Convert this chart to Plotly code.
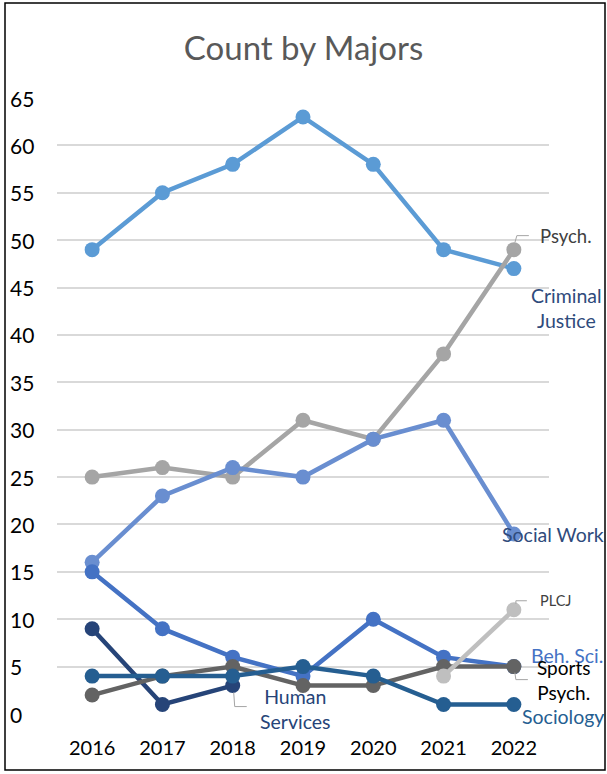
import plotly.graph_objects as go

years = ["2016", "2017", "2018", "2019", "2020", "2021", "2022"]

criminal_justice = [49, 55, 58, 63, 58, 49, 47]
psych = [25, 26, 25, 31, 29, 38, 49]
social_work = [16, 23, 26, 25, 29, 31, 19]
beh_sci = [15, 9, 6, 4, 10, 6, 5]
human_services = [9, 1, 3, None, None, None, None]
sports_psych = [2, 4, 5, 3, 3, 5, 5]
sociology = [4, 4, 4, 5, 4, 1, 1]
plcj = [None, None, None, None, None, 4, 11]

y_ticks = list(range(0, 70, 5))

series = [
    ("Criminal Justice", criminal_justice, "#5B9BD5"),
    ("Psych.", psych, "#A5A5A5"),
    ("Social Work", social_work, "#698ED0"),
    ("Beh. Sci.", beh_sci, "#4472C4"),
    ("Human Services", human_services, "#264478"),
    ("Sports Psych.", sports_psych, "#636363"),
    ("Sociology", sociology, "#255E91"),
    ("PLCJ", plcj, "#BFBFBF"),
]

FONT = "Lato"
W, H = 607, 774
L, R, T, B = 57, 58, 98, 60
pw, ph = W - L - R, H - T - B

fig = go.Figure()
for name, vals, col in series:
    fig.add_trace(go.Scatter(x=years, y=vals, name=name, mode="lines+markers",
                             line=dict(color=col, width=4.5),
                             marker=dict(color=col, size=15),
                             connectgaps=False, hoverinfo="x+y+name"))

last = len(years) - 1
# data labels: text, category index, value, xshift, yshift, anchor, color, size
labels = [
    ("Psych.", last, psych[-1], 24, 14, "left", "#404040", 18.5),
    ("Criminal<br>Justice", last, criminal_justice[-1], 53, -39, "center", "#2F4B7C", 19.5),
    ("Social Work", last, social_work[-1], 39, -1, "center", "#2F4B7C", 19.5),
    ("PLCJ", last, plcj[-1], 24, 9, "left", "#404040", 14.5),
    ("Beh. Sci.", last, beh_sci[-1], 53.5, 11, "center", "#4472C4", 19.5),
    ("Sports<br>Psych.", last, sports_psych[-1], 50, -13.5, "center", "#000000", 19),
    ("Sociology", last, sociology[-1], 49, -12, "center", "#255E91", 19.5),
    ("Human<br>Services", 2, human_services[2], 63, -23.5, "center", "#264478", 19.5),
]
for txt, x, y, xs, ys, anc, col, sz in labels:
    fig.add_annotation(x=x, y=y, xref="x", yref="y", text=txt, showarrow=False,
                       xshift=xs, yshift=ys, xanchor=anc, yanchor="middle",
                       align="center", font=dict(family=FONT, size=sz, color=col))

# leader lines
leaders = [
    (last, psych[-1], "M 1 7 L 3 14 L 15 14"),
    (last, plcj[-1], "M 2 6 L 2 9 L 13 9"),
    (last, sports_psych[-1], "M 1 -6 L 2 -13 L 14 -13"),
    (2, human_services[2], "M 1 -7 L 2 -21 L 14 -21"),
]
for xa, ya, p in leaders:
    fig.add_shape(type="path", xref="x", yref="y", xsizemode="pixel", ysizemode="pixel",
                  xanchor=xa, yanchor=ya, path=p, line=dict(color="#A5A5A5", width=1))

# left-aligned y tick labels
for v in y_ticks:
    fig.add_annotation(x=(8 - L) / pw, y=v, xref="paper", yref="y", text=str(v),
                       showarrow=False, xanchor="left", yanchor="middle",
                       font=dict(family=FONT, size=21, color="#000000"))

# chart border
fig.add_shape(type="rect", xref="paper", yref="paper",
              x0=(5 - L) / pw, x1=(605 - L) / pw,
              y0=(T + ph - 770) / ph, y1=(T + ph - 3) / ph,
              line=dict(color="#000000", width=1.5), layer="below")

fig.update_layout(
    width=W, height=H,
    margin=dict(l=L, r=R, t=T, b=B),
    paper_bgcolor="white", plot_bgcolor="white",
    showlegend=False,
    title=dict(text="Count by Majors", x=0.5, xanchor="center", y=1 - 48 / H, yanchor="middle",
               font=dict(family=FONT, size=33, color="#595959")),
    xaxis=dict(type="category", range=[-0.5, 6.5], showgrid=False, zeroline=False,
               showline=False, ticks="", ticklabelstandoff=20,
               tickfont=dict(family=FONT, size=20, color="#000000")),
    yaxis=dict(range=[0, 65], tickvals=y_ticks, showticklabels=False, showgrid=True,
               gridcolor="#D9D9D9", gridwidth=1.5, zeroline=False, showline=False),
)

fig.write_html("out.html", config={"displayModeBar": False},
               post_script="document.body.style.margin='0';")
